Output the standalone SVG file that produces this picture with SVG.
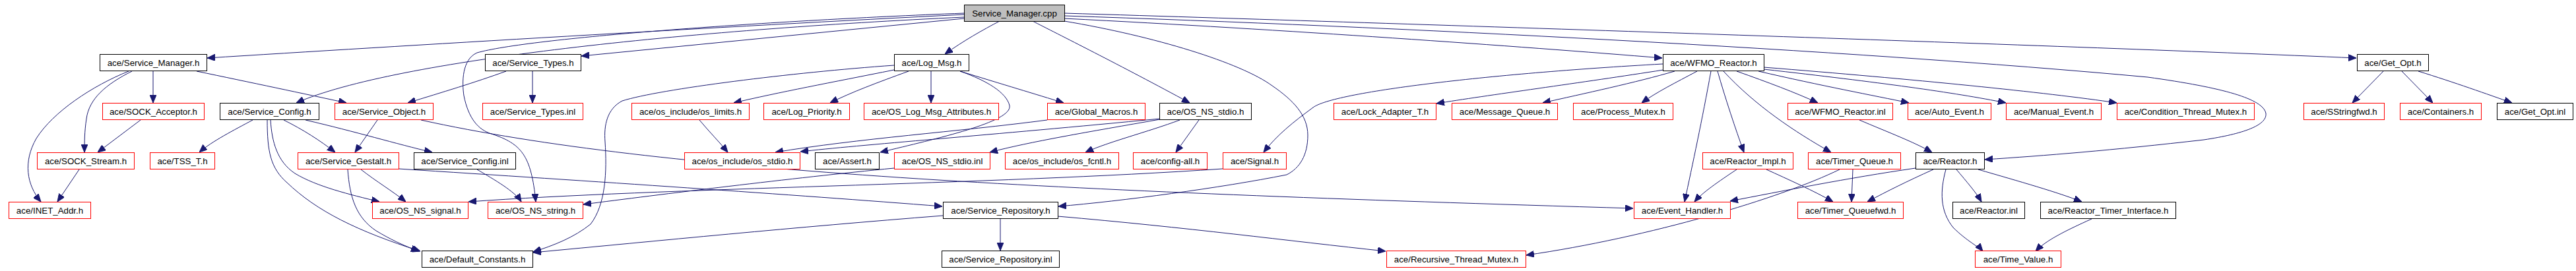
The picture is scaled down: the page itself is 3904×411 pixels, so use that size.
<svg xmlns="http://www.w3.org/2000/svg" width="3904" height="411" viewBox="0 0 3904 411">
<style>
rect{stroke-width:1}
.b{fill:#fff;stroke:#000}
.r{fill:#fff;stroke:#f00}
.g{fill:#bfbfbf;stroke:#000}
text{font-family:"Liberation Sans",Arial,sans-serif;font-size:13.3px;fill:#000;text-anchor:middle}
#edges path{fill:none;stroke:#191970;stroke-width:1;marker-end:url(#a)}
</style>
<defs>
<marker id="a" markerWidth="12" markerHeight="10" refX="12" refY="5" orient="auto" markerUnits="userSpaceOnUse"><path d="M0,0 L12,5 L0,10 z" fill="#191970" stroke="#191970"/></marker>
</defs>
<rect width="3904" height="411" fill="#fff"/>
<g id="edges">
<path d="M1461,22 C1100,40 600,70 314,88"/>
<path d="M1461,26 C1050,45 600,90 449,156"/>
<path d="M1461,28 L881,85"/>
<path d="M1461,20 C1150,32 800,58 723,80 C700,90 700,125 703,145 C710,180 725,197 745,203 C790,218 805,235 812,306"/>
<path d="M1515,32 C1490,45 1460,62 1432,82"/>
<path d="M1565,32 C1600,50 1700,100 1803,156"/>
<path d="M1613,20 C2200,38 3100,68 3571,88"/>
<path d="M1613,24 C2100,40 2800,75 3255,117 C3370,133 3430,150 3434,172 C3436,190 3400,203 3340,212 C3200,228 3100,236 3008,242"/>
<path d="M1613,28 C1950,45 2300,70 2519,88"/>
<path d="M1613,32 C1750,55 1880,95 1928,130 C1960,152 1982,175 1982,205 C1982,235 1970,255 1950,265 C1850,285 1700,305 1604,313"/>
<path d="M232,108 L232,156"/>
<path d="M200,108 C160,128 135,150 131,180 C128,200 128,215 128,231"/>
<path d="M195,108 C140,130 80,170 55,210 C35,245 40,280 62,306"/>
<path d="M213,182 L148,231"/>
<path d="M120,257 L87,306"/>
<path d="M298,108 C380,125 460,142 525,156"/>
<path d="M383,182 C355,197 320,215 302,231"/>
<path d="M430,182 C460,197 485,213 508,231"/>
<path d="M463,182 C540,200 600,218 655,231"/>
<path d="M410,182 C412,215 420,245 447,263 C480,283 530,295 575,306"/>
<path d="M405,182 C405,230 410,255 435,277 C480,320 540,350 637,381"/>
<path d="M572,182 L538,231"/>
<path d="M638,182 C1000,262 1600,290 2475,316"/>
<path d="M807,108 L807,156"/>
<path d="M767,108 C720,125 670,140 618,156"/>
<path d="M1411,108 L1411,156"/>
<path d="M1455,108 C1520,128 1570,143 1612,156"/>
<path d="M1377,108 C1330,125 1290,140 1258,156"/>
<path d="M1355,106 C1260,125 1180,140 1112,156"/>
<path d="M1355,99 C1200,110 1000,135 943,153 C920,165 915,190 917,215 C920,260 918,310 895,340 C870,360 840,372 808,382"/>
<path d="M1455,108 C1495,122 1525,140 1530,160 C1535,185 1420,210 1334,231"/>
<path d="M1060,182 C1075,200 1090,215 1103,231"/>
<path d="M1788,182 C1740,200 1680,215 1645,231"/>
<path d="M1817,182 L1782,231"/>
<path d="M1758,181 C1650,200 1560,215 1500,231"/>
<path d="M1758,180 C1500,205 1300,220 1213,230"/>
<path d="M1587,182 C1450,200 1300,210 1175,231"/>
<path d="M1853,256 C1500,280 1000,285 710,306"/>
<path d="M1355,255 C1200,270 1000,295 884,310"/>
<path d="M547,257 C570,275 595,290 615,306"/>
<path d="M527,257 C530,300 540,330 570,350 C590,362 610,372 635,381"/>
<path d="M604,256 C900,275 1200,295 1428,313"/>
<path d="M723,257 C750,273 780,290 790,306"/>
<path d="M1516,331 L1516,380"/>
<path d="M1429,327 C1200,345 1000,365 808,383"/>
<path d="M1603,328 C1800,345 1950,365 2100,381"/>
<path d="M2520,97 C2250,112 2020,140 1990,163 C1960,185 1935,205 1915,231"/>
<path d="M2521,106 C2400,125 2250,145 2177,157"/>
<path d="M2538,108 C2480,125 2400,142 2338,156"/>
<path d="M2572,108 C2540,125 2510,140 2488,156"/>
<path d="M2593,108 C2580,180 2565,250 2553,306"/>
<path d="M2603,108 C2615,150 2630,195 2643,231"/>
<path d="M2612,108 C2660,160 2720,200 2775,231"/>
<path d="M2632,108 C2680,125 2720,140 2755,156"/>
<path d="M2665,108 C2760,130 2840,145 2893,156"/>
<path d="M2673,105 C2850,125 2960,140 3040,156"/>
<path d="M2673,102 C2900,120 3100,140 3208,156"/>
<path d="M2818,182 C2860,200 2900,215 2928,231"/>
<path d="M2632,257 C2605,275 2580,292 2568,306"/>
<path d="M2677,257 C2710,272 2750,290 2778,306"/>
<path d="M2808,257 L2806,306"/>
<path d="M2788,257 C2700,300 2500,360 2313,387"/>
<path d="M2903,255 C2800,270 2700,290 2622,305"/>
<path d="M2930,257 C2890,275 2860,290 2830,306"/>
<path d="M2965,257 C2980,275 2995,292 3003,306"/>
<path d="M2998,257 C3060,275 3120,292 3155,306"/>
<path d="M2949,257 C2940,290 2940,320 2960,345 C2980,365 3000,375 3005,381"/>
<path d="M3170,332 C3130,350 3100,365 3085,381"/>
<path d="M3612,108 L3565,156"/>
<path d="M3640,108 L3687,156"/>
<path d="M3665,108 C3720,125 3770,143 3807,156"/>
</g>
<g id="n0"><rect class="g" x="1461.5" y="7.5" width="152" height="25"/><text x="1537.5" y="25">Service_Manager.cpp</text></g>
<g id="n1"><rect class="b" x="151.5" y="82.5" width="162" height="25"/><text x="232.5" y="100">ace/Service_Manager.h</text></g>
<g id="n2"><rect class="b" x="735.5" y="82.5" width="145" height="25"/><text x="808" y="100">ace/Service_Types.h</text></g>
<g id="n3"><rect class="b" x="1355.5" y="82.5" width="113" height="25"/><text x="1412" y="100">ace/Log_Msg.h</text></g>
<g id="n4"><rect class="b" x="2520.5" y="82.5" width="153" height="25"/><text x="2597" y="100">ace/WFMO_Reactor.h</text></g>
<g id="n5"><rect class="b" x="3572.5" y="82.5" width="108" height="25"/><text x="3626.5" y="100">ace/Get_Opt.h</text></g>
<g id="n6"><rect class="r" x="155.5" y="156.5" width="154" height="25"/><text x="232.5" y="174">ace/SOCK_Acceptor.h</text></g>
<g id="n7"><rect class="b" x="333.5" y="156.5" width="150" height="25"/><text x="408.5" y="174">ace/Service_Config.h</text></g>
<g id="n8"><rect class="r" x="507.5" y="156.5" width="149" height="25"/><text x="582" y="174">ace/Service_Object.h</text></g>
<g id="n9"><rect class="r" x="731.5" y="156.5" width="152" height="25"/><text x="807.5" y="174">ace/Service_Types.inl</text></g>
<g id="n10"><rect class="r" x="957.5" y="156.5" width="178" height="25"/><text x="1046.5" y="174">ace/os_include/os_limits.h</text></g>
<g id="n11"><rect class="r" x="1157.5" y="156.5" width="130" height="25"/><text x="1222.5" y="174">ace/Log_Priority.h</text></g>
<g id="n12"><rect class="r" x="1309.5" y="156.5" width="204" height="25"/><text x="1411.5" y="174">ace/OS_Log_Msg_Attributes.h</text></g>
<g id="n13"><rect class="r" x="1587.5" y="156.5" width="148" height="25"/><text x="1661.5" y="174">ace/Global_Macros.h</text></g>
<g id="n14"><rect class="b" x="1757.5" y="156.5" width="139" height="25"/><text x="1827" y="174">ace/OS_NS_stdio.h</text></g>
<g id="n15"><rect class="r" x="2021.5" y="156.5" width="155" height="25"/><text x="2099" y="174">ace/Lock_Adapter_T.h</text></g>
<g id="n16"><rect class="r" x="2200.5" y="156.5" width="160" height="25"/><text x="2280.5" y="174">ace/Message_Queue.h</text></g>
<g id="n17"><rect class="r" x="2384.5" y="156.5" width="151" height="25"/><text x="2460" y="174">ace/Process_Mutex.h</text></g>
<g id="n18"><rect class="r" x="2709.5" y="156.5" width="159" height="25"/><text x="2789" y="174">ace/WFMO_Reactor.inl</text></g>
<g id="n19"><rect class="r" x="2891.5" y="156.5" width="126" height="25"/><text x="2954.5" y="174">ace/Auto_Event.h</text></g>
<g id="n20"><rect class="r" x="3040.5" y="156.5" width="144" height="25"/><text x="3112.5" y="174">ace/Manual_Event.h</text></g>
<g id="n21"><rect class="r" x="3208.5" y="156.5" width="208" height="25"/><text x="3312.5" y="174">ace/Condition_Thread_Mutex.h</text></g>
<g id="n22"><rect class="r" x="3491.5" y="156.5" width="122" height="25"/><text x="3552.5" y="174">ace/SStringfwd.h</text></g>
<g id="n23"><rect class="r" x="3637.5" y="156.5" width="123" height="25"/><text x="3699" y="174">ace/Containers.h</text></g>
<g id="n24"><rect class="b" x="3784.5" y="156.5" width="115" height="25"/><text x="3842" y="174">ace/Get_Opt.inl</text></g>
<g id="n25"><rect class="r" x="56.5" y="231.5" width="147" height="25"/><text x="130" y="249">ace/SOCK_Stream.h</text></g>
<g id="n26"><rect class="r" x="227.5" y="231.5" width="98" height="25"/><text x="276.5" y="249">ace/TSS_T.h</text></g>
<g id="n27"><rect class="r" x="451.5" y="231.5" width="153" height="25"/><text x="528" y="249">ace/Service_Gestalt.h</text></g>
<g id="n28"><rect class="b" x="627.5" y="231.5" width="154" height="25"/><text x="704.5" y="249">ace/Service_Config.inl</text></g>
<g id="n29"><rect class="r" x="1037.5" y="231.5" width="175" height="25"/><text x="1125" y="249">ace/os_include/os_stdio.h</text></g>
<g id="n30"><rect class="b" x="1235.5" y="231.5" width="97" height="25"/><text x="1284" y="249">ace/Assert.h</text></g>
<g id="n31"><rect class="r" x="1355.5" y="231.5" width="145" height="25"/><text x="1428" y="249">ace/OS_NS_stdio.inl</text></g>
<g id="n32"><rect class="r" x="1523.5" y="231.5" width="172" height="25"/><text x="1609.5" y="249">ace/os_include/os_fcntl.h</text></g>
<g id="n33"><rect class="r" x="1717.5" y="231.5" width="112" height="25"/><text x="1773.5" y="249">ace/config-all.h</text></g>
<g id="n34"><rect class="r" x="1853.5" y="231.5" width="96" height="25"/><text x="1901.5" y="249">ace/Signal.h</text></g>
<g id="n35"><rect class="r" x="2580.5" y="231.5" width="137" height="25"/><text x="2649" y="249">ace/Reactor_Impl.h</text></g>
<g id="n36"><rect class="r" x="2740.5" y="231.5" width="140" height="25"/><text x="2810.5" y="249">ace/Timer_Queue.h</text></g>
<g id="n37"><rect class="b" x="2903.5" y="231.5" width="104" height="25"/><text x="2955.5" y="249">ace/Reactor.h</text></g>
<g id="n38"><rect class="r" x="13.5" y="306.5" width="124" height="25"/><text x="75.5" y="324">ace/INET_Addr.h</text></g>
<g id="n39"><rect class="r" x="564.5" y="306.5" width="145" height="25"/><text x="637" y="324">ace/OS_NS_signal.h</text></g>
<g id="n40"><rect class="r" x="739.5" y="306.5" width="144" height="25"/><text x="811.5" y="324">ace/OS_NS_string.h</text></g>
<g id="n41"><rect class="b" x="1429.5" y="306.5" width="174" height="25"/><text x="1516.5" y="324">ace/Service_Repository.h</text></g>
<g id="n42"><rect class="r" x="2476.5" y="306.5" width="146" height="25"/><text x="2549.5" y="324">ace/Event_Handler.h</text></g>
<g id="n43"><rect class="r" x="2724.5" y="306.5" width="160" height="25"/><text x="2804.5" y="324">ace/Timer_Queuefwd.h</text></g>
<g id="n44"><rect class="b" x="2959.5" y="306.5" width="109" height="25"/><text x="3014" y="324">ace/Reactor.inl</text></g>
<g id="n45"><rect class="b" x="3092.5" y="306.5" width="205" height="25"/><text x="3195" y="324">ace/Reactor_Timer_Interface.h</text></g>
<g id="n46"><rect class="b" x="639.5" y="380.5" width="168" height="25"/><text x="723.5" y="398">ace/Default_Constants.h</text></g>
<g id="n47"><rect class="b" x="1427.5" y="380.5" width="178" height="25"/><text x="1516.5" y="398">ace/Service_Repository.inl</text></g>
<g id="n48"><rect class="r" x="2101.5" y="380.5" width="211" height="25"/><text x="2207" y="398">ace/Recursive_Thread_Mutex.h</text></g>
<g id="n49"><rect class="r" x="2993.5" y="380.5" width="130" height="25"/><text x="3058.5" y="398">ace/Time_Value.h</text></g>
</svg>
